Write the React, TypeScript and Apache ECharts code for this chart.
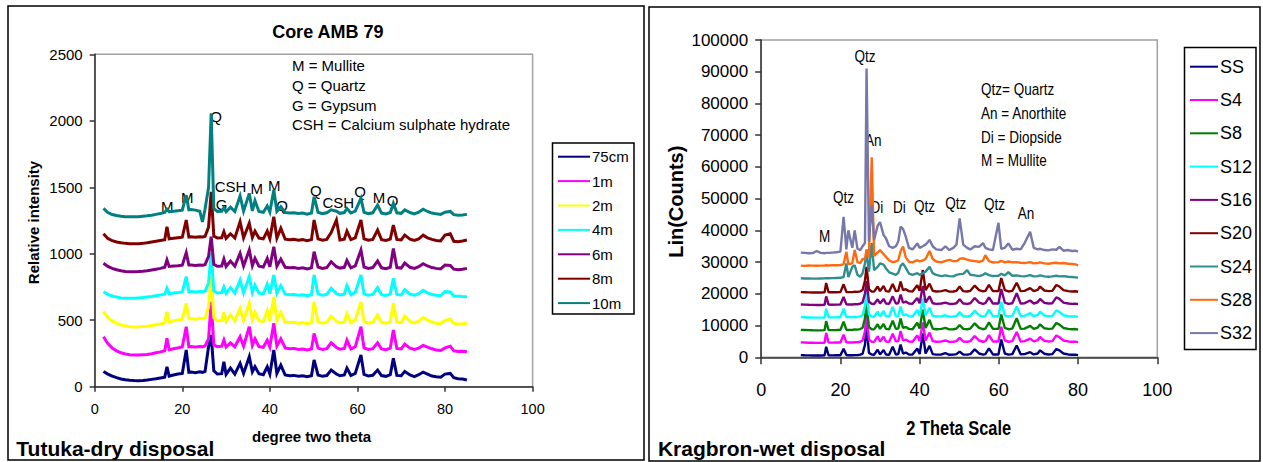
import React, { useEffect, useRef } from "react";
import * as echarts from "echarts";

// ---------- Left panel: Tutuka-dry disposal (Core AMB 79) ----------
const L_THETA = [
  2, 3, 4, 5, 6, 7, 8, 9, 10, 11,
  12, 13, 14, 15, 16, 16.5, 17, 18, 19, 20,
  20.9, 21.5, 22, 23, 24, 24.6, 25.2, 26, 26.6, 27.2,
  28, 29, 29.5, 30, 31, 32, 33.2, 34, 35.3, 36,
  36.6, 37.5, 38.5, 39.4, 40, 40.9, 41.6, 42.5, 43.5, 44.5,
  45.5, 46.5, 47.5, 48.5, 49.5, 50.1, 51, 52, 53, 54,
  55.2, 56, 57, 57.6, 58.5, 59.5, 60.8, 61.5, 62.5, 63.5,
  64.6, 65.5, 66.5, 67.5, 68.2, 69, 70, 70.8, 72, 73,
  74, 75, 76, 77, 78, 79, 80, 81.2, 82, 83,
  84, 85,
];

const L_75CM = [
  115, 95, 80, 68, 58, 52, 48, 46, 45, 47,
  50, 55, 60, 66, 72, 150, 80, 88, 95, 100,
  276, 108, 110, 105, 112, 108, 115, 300, 389, 120,
  95, 98, 188, 92, 140, 95, 176, 100, 226, 112,
  150, 98, 90, 150, 95, 276, 100, 163, 88, 82,
  85, 78, 82, 75, 82, 201, 88, 78, 84, 125,
  95, 82, 88, 140, 84, 100, 238, 92, 80, 86,
  125, 84, 78, 90, 213, 85, 82, 115, 88, 76,
  90, 110, 95, 80, 75, 72, 95, 100, 68, 60,
  58, 50,
];
const L_1M = [
  376, 325, 290, 270, 255, 246, 240, 238, 238, 240,
  242, 248, 255, 262, 270, 364, 278, 285, 292, 298,
  451, 300, 302, 298, 302, 300, 306, 360, 640, 315,
  300, 305, 351, 298, 330, 300, 376, 305, 451, 312,
  360, 302, 296, 350, 300, 477, 306, 360, 292, 285,
  288, 280, 284, 276, 284, 401, 290, 280, 286, 330,
  295, 282, 288, 350, 284, 300, 451, 292, 280, 286,
  330, 284, 278, 290, 426, 288, 284, 320, 290, 280,
  290, 310, 298, 285, 276, 272, 292, 305, 270, 265,
  266, 263,
];
const L_2M = [
  564, 520, 495, 478, 465, 456, 451, 449, 450, 452,
  455, 460, 466, 472, 480, 564, 488, 495, 502, 508,
  627, 510, 512, 508, 514, 512, 516, 600, 827, 520,
  495, 498, 560, 492, 540, 495, 589, 498, 627, 505,
  560, 496, 490, 570, 492, 677, 498, 560, 486, 482,
  484, 478, 482, 474, 482, 639, 488, 478, 484, 530,
  492, 480, 486, 550, 482, 500, 639, 490, 478, 484,
  540, 484, 478, 488, 627, 486, 482, 530, 490, 480,
  492, 520, 500, 486, 478, 476, 498, 510, 476, 472,
  474, 477,
];
const L_4M = [
  714, 695, 682, 674, 668, 665, 665, 666, 668, 670,
  674, 678, 684, 690, 696, 740, 700, 705, 708, 712,
  827, 714, 716, 712, 716, 714, 718, 780, 1003, 722,
  705, 708, 750, 702, 745, 704, 802, 706, 827, 710,
  765, 704, 698, 770, 700, 840, 704, 760, 696, 692,
  694, 688, 692, 684, 692, 840, 698, 688, 694, 740,
  700, 690, 696, 760, 692, 708, 840, 698, 688, 694,
  745, 692, 686, 696, 815, 694, 690, 730, 696, 688,
  700, 725, 706, 694, 688, 684, 715, 712, 682, 680,
  678, 677,
];
const L_6M = [
  928, 905, 890, 880, 872, 867, 865, 865, 866, 868,
  872, 878, 884, 890, 898, 953, 905, 908, 910, 914,
  1008, 915, 916, 912, 916, 914, 918, 980, 1128, 920,
  906, 908, 960, 904, 945, 906, 1003, 908, 1028, 910,
  965, 906, 900, 965, 902, 1053, 906, 960, 898, 894,
  896, 890, 894, 886, 894, 1015, 900, 890, 896, 940,
  902, 892, 898, 950, 894, 908, 1028, 900, 890, 896,
  945, 894, 888, 898, 1040, 896, 892, 930, 898, 890,
  902, 925, 908, 896, 890, 886, 915, 912, 884, 880,
  884, 890,
];
const L_8M = [
  1150, 1115, 1098, 1088, 1082, 1078, 1076, 1075, 1076, 1078,
  1082, 1088, 1094, 1100, 1106, 1203, 1112, 1116, 1120, 1124,
  1254, 1126, 1128, 1124, 1128, 1126, 1130, 1200, 1466, 1132,
  1118, 1120, 1165, 1116, 1150, 1118, 1241, 1120, 1229, 1122,
  1170, 1118, 1112, 1170, 1114, 1278, 1118, 1191, 1110, 1106,
  1108, 1102, 1106, 1098, 1106, 1254, 1112, 1102, 1108, 1160,
  1254, 1104, 1110, 1170, 1106, 1120, 1254, 1112, 1102, 1108,
  1178, 1106, 1100, 1110, 1216, 1108, 1104, 1140, 1110, 1100,
  1112, 1140, 1120, 1108, 1100, 1096, 1140, 1150, 1094, 1090,
  1096, 1103,
];
const L_10M = [
  1341, 1310, 1295, 1288, 1282, 1279, 1278, 1278, 1279, 1282,
  1285, 1290, 1296, 1302, 1310, 1335, 1316, 1320, 1324, 1328,
  1440, 1330, 1332, 1328, 1320, 1240, 1335, 1500, 2056, 1340,
  1318, 1320, 1345, 1316, 1350, 1318, 1434, 1320, 1454, 1322,
  1400, 1318, 1312, 1360, 1314, 1479, 1318, 1354, 1310, 1306,
  1308, 1302, 1306, 1298, 1306, 1429, 1312, 1302, 1308, 1330,
  1320, 1304, 1310, 1340, 1306, 1320, 1417, 1312, 1302, 1308,
  1366, 1306, 1300, 1310, 1379, 1308, 1304, 1330, 1310, 1300,
  1312, 1335, 1318, 1306, 1300, 1296, 1312, 1318, 1294, 1290,
  1292, 1296,
];

const L_NAMES = ["75cm", "1m", "2m", "4m", "6m", "8m", "10m"];
const L_VALUES = [L_75CM, L_1M, L_2M, L_4M, L_6M, L_8M, L_10M];
const L_COLORS = ["#000080", "#ff00ff", "#ffff00", "#00ffff", "#800080", "#800000", "#008080"];

// ---------- Right panel: Kragbron-wet disposal ----------
const R_THETA = [
  10, 11, 12, 13, 14, 15, 16, 16.4, 17, 18,
  19, 20, 20.8, 21.5, 22, 23, 23.6, 24.3, 25, 25.6,
  26.2, 26.6, 27.2, 27.9, 28.5, 29.4, 30, 30.9, 31.5, 32.3,
  33.2, 34, 34.6, 35.2, 35.8, 36.5, 37.3, 38.2, 39.4, 40,
  40.8, 41.5, 42.5, 43.3, 44.2, 45.5, 46.5, 47.5, 48.5, 49.3,
  50.1, 51, 52, 52.8, 53.9, 55, 56, 56.6, 57.5, 58.5,
  59.9, 60.6, 61.5, 62.4, 63.4, 64.5, 65.5, 66.5, 67.9, 68.8,
  69.8, 70.4, 71.5, 72.5, 73.5, 74.5, 75.3, 76.3, 77.5, 78.5,
  79.3, 80,
];

const R_SS = [
  700, 650, 620, 580, 560, 560, 600, 3300, 640, 620,
  640, 660, 2700, 700, 660, 650, 700, 690, 850, 1100,
  4000, 10000, 1400, 900, 800, 2400, 900, 2300, 900, 800,
  3300, 900, 1000, 4000, 1200, 1500, 900, 850, 2800, 1000,
  7500, 1200, 3600, 1000, 850, 900, 1300, 800, 850, 1000,
  1800, 900, 850, 1000, 2500, 1200, 850, 1000, 2800, 900,
  900, 5600, 1200, 850, 1000, 3700, 950, 1000, 1600, 900,
  1200, 2200, 1100, 900, 1000, 2600, 2200, 1200, 900, 800,
  850, 700,
];
const R_S4 = [
  4700, 4650, 4600, 4580, 4560, 4560, 4600, 7700, 4650, 4640,
  4660, 4680, 7100, 4720, 4680, 4680, 4760, 4740, 4900, 5300,
  8200, 14000, 5500, 4900, 4850, 6600, 5000, 6500, 5000, 4900,
  7400, 5000, 5100, 8300, 5300, 5600, 5000, 4900, 6900, 5100,
  11000, 5300, 7800, 5100, 4900, 5000, 5300, 4850, 4900, 5100,
  6100, 5000, 4900, 5100, 6700, 5300, 4900, 5100, 7000, 5000,
  5000, 9600, 5300, 4900, 5100, 8000, 5000, 5100, 5900, 5000,
  5400, 6400, 5200, 5000, 5100, 6900, 6300, 5300, 5000, 4900,
  4950, 4800,
];
const R_S8 = [
  8650, 8600, 8550, 8520, 8500, 8500, 8550, 11400, 8600, 8580,
  8600, 8640, 11200, 8700, 8650, 8650, 8750, 8720, 8900, 9300,
  12300, 17000, 9500, 8850, 8800, 10400, 8950, 10500, 8950, 8850,
  11500, 8950, 9050, 12200, 9250, 9550, 8950, 8850, 10900, 9050,
  15000, 9250, 11800, 9050, 8850, 8950, 9250, 8800, 8850, 9050,
  10200, 8950, 8850, 9050, 10700, 9250, 8850, 9050, 11000, 8950,
  8950, 13500, 9250, 8850, 9050, 12300, 8950, 9050, 9900, 8950,
  9350, 10400, 9150, 8950, 9050, 10800, 10300, 9250, 8950, 8850,
  8900, 8750,
];
const R_S12 = [
  12650, 12600, 12550, 12520, 12500, 12500, 12550, 15300, 12600, 12580,
  12600, 12640, 15300, 12700, 12650, 12650, 12750, 12720, 12900, 13300,
  16200, 21000, 13500, 12850, 12800, 14400, 12950, 14600, 12950, 12850,
  15900, 12950, 13050, 16000, 13250, 13550, 12950, 12850, 14900, 13050,
  18500, 13250, 15600, 13050, 12850, 12950, 13250, 12800, 12850, 13050,
  14300, 12950, 12850, 13050, 14700, 13250, 12850, 13050, 15000, 12950,
  12950, 17500, 13250, 12850, 13050, 16000, 12950, 13050, 13900, 12950,
  13350, 14400, 13150, 12950, 13050, 14800, 14300, 13250, 12950, 12850,
  12900, 12750,
];
const R_S16 = [
  16650, 16600, 16550, 16520, 16500, 16500, 16550, 19200, 16600, 16580,
  16600, 16640, 19000, 16700, 16650, 16650, 16750, 16720, 16900, 17300,
  20200, 24000, 17500, 16850, 16800, 18300, 16950, 18400, 16950, 16850,
  19200, 16950, 17050, 19800, 17250, 17550, 16950, 16850, 18700, 17050,
  22500, 17250, 19200, 17050, 16850, 16950, 17250, 16800, 16850, 17050,
  18300, 16950, 16850, 17050, 18700, 17250, 16850, 17050, 18900, 16950,
  16950, 21500, 17250, 16850, 17050, 20200, 16950, 17050, 17900, 16950,
  17350, 18400, 17150, 16950, 17050, 18900, 18400, 17250, 16950, 16850,
  16900, 16750,
];
const R_S20 = [
  20550, 20500, 20450, 20420, 20400, 20400, 20450, 23400, 20500, 20480,
  20500, 20540, 23000, 20600, 20550, 20550, 20650, 20620, 20800, 21200,
  24200, 28500, 21400, 20750, 20700, 22300, 20850, 22500, 20850, 20750,
  23100, 20850, 20950, 23900, 21150, 21450, 20850, 20750, 22700, 20950,
  27500, 21150, 23200, 20950, 20750, 20850, 21150, 20700, 20750, 20950,
  22300, 20850, 20750, 20950, 22600, 21150, 20750, 20950, 22800, 20850,
  20850, 25000, 21150, 20750, 20950, 23500, 20850, 20950, 21800, 20850,
  21250, 22300, 21050, 20850, 20950, 22800, 22300, 21150, 20850, 20750,
  20800, 20650,
];
const R_S24 = [
  24900, 24850, 24850, 24800, 24800, 24850, 24900, 24950, 24900, 24950,
  25000, 25050, 25300, 29600, 25300, 28500, 29000, 26000, 25400, 26500,
  29600, 33000, 27000, 36000, 27500, 28500, 29600, 29200, 28000, 26800,
  26400, 26000, 26600, 28800, 29600, 28200, 26400, 26000, 26500, 26000,
  26500, 27000, 28500, 26500, 26000, 25600, 25800, 25600, 25500, 26000,
  26200, 26300, 27500, 26000, 25800, 25600, 26000, 26500, 25900, 25600,
  25700, 26300, 25800, 26800, 25700, 25800, 25600, 25500, 25900, 25500,
  25600, 25800, 25500, 25400, 25500, 25700, 25500, 25600, 25400, 25300,
  25200, 25100,
];
const R_S28 = [
  28900, 28800, 28950, 28900, 28850, 28900, 28950, 29000, 28950, 29050,
  29000, 29100, 29300, 33300, 29400, 29600, 33800, 30000, 29700, 31000,
  31000, 34000, 31500, 63000, 32000, 33000, 33800, 32500, 31700, 30500,
  30000, 30200, 30600, 33500, 34900, 31500, 30100, 29900, 30600, 30200,
  30500, 31000, 33500, 31000, 30200, 29900, 30400, 30700, 30300, 30300,
  31000, 31200, 30800, 30500, 30300, 30100, 30500, 32200, 30300, 29900,
  30000, 30400, 29900, 30200, 29900, 30000, 29800, 29700, 30000, 29600,
  29700, 29900, 29600, 29500, 29700, 29800, 29600, 29700, 29500, 29400,
  29300, 29000,
];
const R_S32 = [
  33000, 32900, 32800, 32850, 33500, 32900, 32800, 32900, 32900, 33000,
  33100, 33300, 44300, 34000, 40000, 34500, 40000, 34200, 33800, 35000,
  36000, 91000, 36500, 48000, 37000, 41500, 42600, 38500, 37500, 35000,
  34500, 35000, 36500, 41200, 40500, 38000, 34500, 34000, 35900, 34500,
  35000, 35500, 37000, 35000, 34000, 33800, 35000, 33800, 34500, 35500,
  43800, 35500, 34500, 34000, 35000, 34800, 36000, 34500, 34000, 33800,
  42400, 34200, 34500, 35900, 33900, 34200, 34000, 36000, 39600, 34500,
  34000, 34200, 33800, 33700, 34000, 33900, 34800, 33600, 33800, 33500,
  33600, 33300,
];

const R_NAMES = ["SS", "S4", "S8", "S12", "S16", "S20", "S24", "S28", "S32"];
const R_VALUES = [R_SS, R_S4, R_S8, R_S12, R_S16, R_S20, R_S24, R_S28, R_S32];
const R_COLORS = ["#000080", "#ff00ff", "#008000", "#00ffff", "#800080", "#800000", "#2f8f8f", "#ff6a10", "#7777aa"];

// Axis tick labels
const L_X_TICKS = [0, 20, 40, 60, 80, 100];
const L_Y_TICKS = [0, 500, 1000, 1500, 2000, 2500];
const R_X_TICKS = [0, 20, 40, 60, 80, 100];
const R_Y_TICKS = [0, 10000, 20000, 30000, 40000, 50000, 60000, 70000, 80000, 90000, 100000];

// Annotation texts
const L_KEY = ["M = Mullite", "Q = Quartz", "G = Gypsum", "CSH = Calcium sulphate hydrate"];
const R_KEY = ["Qtz= Quartz", "An = Anorthite", "Di = Diopside", "M = Mullite"];
const L_PEAK_TEXT = ["Q", "CSH", "M", "M", "M", "M", "G", "Q", "Q", "CSH", "Q", "M", "Q"];
const R_PEAK_TEXT = ["Qtz", "An", "Qtz", "Di", "Di", "Qtz", "Qtz", "Qtz", "An", "M"];

// ---------- layout (pixels) ----------
const FONT = "'Liberation Sans', Arial, Helvetica, sans-serif";
const NARROW_X = 0.82; // horizontal squeeze to imitate a narrow face

const L_PEAK_POS = [
  [216, 116], [230.6, 186.7], [256.8, 188.5], [274.3, 185.5], [187.2, 197.8], [167.3, 206.4],
  [221.7, 204.2], [282.2, 205.2], [315.8, 190.5], [338.3, 202.5], [360, 191.5], [379, 197.7], [392.7, 200.4],
];
const R_PEAK_POS = [
  [865, 56], [873.2, 140], [843.4, 196.7], [876.8, 206.7], [899.4, 207.3],
  [924.5, 206], [955.8, 203.3], [994.4, 204], [1026, 213.3], [824.7, 236],
];

function buildOption() {
  const axisLine = { show: true, onZero: false, lineStyle: { color: "#333", width: 1.5 } };
  const plain = (v: number) => String(v);
  const series: any[] = [];
  L_VALUES.forEach((vals, k) => {
    series.push({
      name: L_NAMES[k], type: "line", xAxisIndex: 0, yAxisIndex: 0,
      data: L_THETA.map((t, i) => [t, vals[i]]),
      showSymbol: false, symbol: "none", silent: true,
      lineStyle: { width: 3, color: L_COLORS[k], join: "miter" }, itemStyle: { color: L_COLORS[k] },
    });
  });
  R_VALUES.forEach((vals, k) => {
    series.push({
      name: R_NAMES[k], type: "line", xAxisIndex: 1, yAxisIndex: 1,
      data: R_THETA.map((t, i) => [t, vals[i]]),
      showSymbol: false, symbol: "none", silent: true,
      lineStyle: { width: 2.4, color: R_COLORS[k] }, itemStyle: { color: R_COLORS[k] },
    });
  });

  const txt = (text: string, x: number, y: number, font: string, align = "center", extra: any = {}) => ({
    type: "text", x, y, silent: true, ...extra,
    style: { text, x: 0, y: 0, font, fill: "#000", textAlign: align, textVerticalAlign: "middle" },
  });
  const narrow = { scaleX: NARROW_X };

  const graphics: any[] = [
    { type: "rect", silent: true, shape: { x: 8, y: 6, width: 636, height: 454 }, style: { fill: "none", stroke: "#000", lineWidth: 1.5 } },
    { type: "rect", silent: true, shape: { x: 649, y: 7, width: 611, height: 454 }, style: { fill: "none", stroke: "#000", lineWidth: 1.5 } },
    { type: "rect", silent: true, shape: { x: 552.5, y: 143, width: 81.5, height: 171 }, style: { fill: "none", stroke: "#000", lineWidth: 1.5 } },
    { type: "rect", silent: true, shape: { x: 1184.5, y: 47.5, width: 71.5, height: 302 }, style: { fill: "none", stroke: "#000", lineWidth: 1.5 } },
    txt("Core AMB 79", 327.8, 32.3, `bold 18px ${FONT}`),
    txt("Relative intensity", 33.5, 222.5, `bold 15px ${FONT}`, "center", { rotation: Math.PI / 2 }),
    txt("degree two theta", 311.6, 436, `bold 15px ${FONT}`),
    txt("Tutuka-dry disposal", 16.3, 448.3, `bold 21px ${FONT}`, "left"),
    txt("Lin(Counts)", 675.8, 201.7, `bold 20px ${FONT}`, "center", { rotation: Math.PI / 2 }),
    txt("2 Theta Scale", 958.7, 427.7, `bold 20px ${FONT}`, "center", narrow),
    txt("Kragbron-wet disposal", 657.9, 448, `bold 21px ${FONT}`, "left"),
  ];
  const lKeyY = [65, 85, 105, 124.5];
  L_KEY.forEach((s, i) => graphics.push(txt(s, 292, lKeyY[i], `15px ${FONT}`, "left")));
  const rKeyY = [89, 113, 136.5, 160];
  R_KEY.forEach((s, i) => graphics.push(txt(s, 981, rKeyY[i], `16.5px ${FONT}`, "left", narrow)));
  L_PEAK_TEXT.forEach((s, i) => graphics.push(txt(s, L_PEAK_POS[i][0], L_PEAK_POS[i][1], `15px ${FONT}`)));
  R_PEAK_TEXT.forEach((s, i) => graphics.push(txt(s, R_PEAK_POS[i][0], R_PEAK_POS[i][1], `16.5px ${FONT}`, "center", narrow)));

  return {
    animation: false,
    backgroundColor: "#ffffff",
    grid: [
      { left: 94.7, top: 54.3, width: 437.9, height: 332.4, show: true, borderColor: "#a0a0a0", borderWidth: 1.5, containLabel: false },
      { left: 761.2, top: 40, width: 396.1, height: 317.3, show: true, borderColor: "#a0a0a0", borderWidth: 1.5, containLabel: false },
    ],
    xAxis: [
      {
        gridIndex: 0, type: "value", min: L_X_TICKS[0], max: L_X_TICKS[L_X_TICKS.length - 1], interval: L_X_TICKS[1] - L_X_TICKS[0],
        axisLine, axisTick: { show: true, length: 5, lineStyle: { color: "#333", width: 1.5 } },
        axisLabel: { fontSize: 14.5, color: "#000", fontFamily: FONT, margin: 15, formatter: plain }, splitLine: { show: false },
      },
      {
        gridIndex: 1, type: "value", min: R_X_TICKS[0], max: R_X_TICKS[R_X_TICKS.length - 1], interval: R_X_TICKS[1] - R_X_TICKS[0],
        axisLine, axisTick: { show: true, length: 7, lineStyle: { color: "#333", width: 1.5 } },
        axisLabel: { fontSize: 18, color: "#000", fontFamily: FONT, margin: 24, formatter: plain }, splitLine: { show: false },
      },
    ],
    yAxis: [
      {
        gridIndex: 0, type: "value", min: L_Y_TICKS[0], max: L_Y_TICKS[L_Y_TICKS.length - 1], interval: L_Y_TICKS[1] - L_Y_TICKS[0],
        axisLine, axisTick: { show: true, length: 5, lineStyle: { color: "#333", width: 1.5 } },
        axisLabel: { fontSize: 15, color: "#000", fontFamily: FONT, margin: 12, formatter: plain }, splitLine: { show: false },
      },
      {
        gridIndex: 1, type: "value", min: R_Y_TICKS[0], max: R_Y_TICKS[R_Y_TICKS.length - 1], interval: R_Y_TICKS[1] - R_Y_TICKS[0],
        axisLine, axisTick: { show: true, length: 6, lineStyle: { color: "#333", width: 1.5 } },
        axisLabel: { fontSize: 17, color: "#000", fontFamily: FONT, margin: 13, formatter: plain }, splitLine: { show: false },
      },
    ],
    legend: [
      {
        data: L_NAMES, orient: "vertical", left: 558, top: 149.2, padding: 0,
        itemWidth: 32, itemHeight: 2, itemGap: 9.4, icon: "rect", selectedMode: false,
        textStyle: { fontSize: 15, lineHeight: 15, color: "#000", fontFamily: FONT, padding: [0, 0, 0, -3] },
      },
      {
        data: R_NAMES, orient: "vertical", left: 1190, top: 57.7, padding: 0,
        itemWidth: 28, itemHeight: 2, itemGap: 15.3, icon: "rect", selectedMode: false,
        textStyle: { fontSize: 18, lineHeight: 18, color: "#000", fontFamily: FONT, padding: [0, 0, 0, -3] },
      },
    ],
    graphic: graphics,
    series,
  };
}

export default function App() {
  const ref = useRef<HTMLDivElement>(null);
  useEffect(() => {
    if (!ref.current) return;
    const chart = echarts.init(ref.current, null, { renderer: "svg" });
    chart.setOption(buildOption() as any);
    return () => chart.dispose();
  }, []);
  return (
    <div
      ref={ref}
      style={{ position: "absolute", left: 0, top: 0, width: 1263, height: 462, background: "#fff" }}
    />
  );
}
